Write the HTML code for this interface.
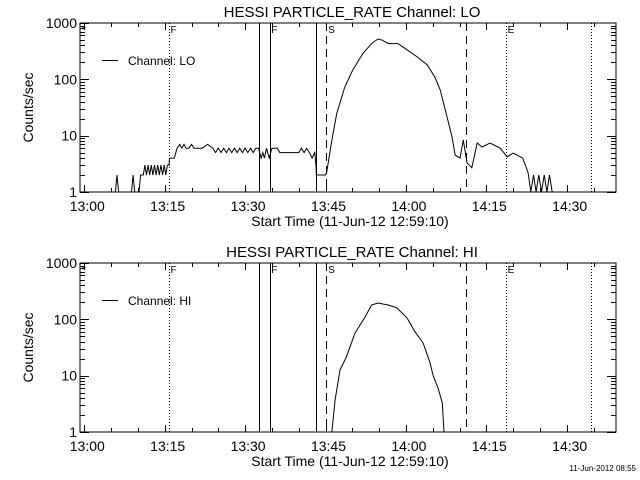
<!DOCTYPE html>
<html><head><meta charset="utf-8"><style>
html,body{margin:0;padding:0;background:#fff;}
svg{display:block;font-family:"Liberation Sans",sans-serif;}
</style></head><body>
<svg id="c" width="640" height="480" xmlns="http://www.w3.org/2000/svg">
<rect width="640" height="480" fill="#fff"/>
</svg>
<script>
// data (time in minutes since 13:00, counts/sec; values <1 are clipped)
const loTimes=[-0.8,5.8,6.1,6.4,8.8,9.1,9.4,9.7,10.2,10.5,11,11.3,11.6,11.9,12.2,12.5,12.8,13.1,13.4,13.7,14,14.3,14.6,14.9,15.2,15.5,15.8,15.9,16.8,17.3,17.8,18.2,18.6,19,19.5,20,20.5,22,23,24,24.5,25,25.5,26,26.5,27,27.5,28,28.5,29,29.5,30,30.5,31,31.5,32,32.5,33,33.3,33.6,34,34.5,35,36,36.5,40,40.5,41,41.5,42,42.5,43,43.2,43.3,45,45.2,46.2,47.1,48.6,50.1,52.0,53.7,54.8,55.5,56.7,58.5,60.2,62.1,64.0,65.4,66.4,67.7,68.6,69.2,70.1,70.7,71.4,72.3,73.3,74.2,75.7,77.6,78.9,80.0,81.8,82.8,83.3,83.8,84.3,84.8,85.3,85.8,86.3,86.8,87.3,87.8];
const loValues=[0.5,0.5,2,0.5,0.5,2,0.5,1,1,2,2,3,2,3,2,3,2,3,2,3,2,3,2,3,2,3,3,4,4,6,7,6,7,6,6,7,6,6,7,6,5,6,5,6,5,6,5,6,5,6,5,6,5,6,5,6,6,4,5,4,6,4,6,6,5,5,6,5,6,5,4,5,3,2,2,2.2,8.4,25,73,147,290,440,520,500,430,430,335,250,180,110,65,21,9.5,4.5,4,8.4,3.3,2.7,7.4,6.3,7.4,6,4.2,4.9,4,2.2,0.5,2,0.5,2,0.5,2,0.5,2,0.5,0.5];
const hiTimes=[45.5,46.2,46.8,47.7,48.9,50.5,52.4,53.6,54.8,56.7,58.3,60.2,61.7,63.2,64.5,65.1,66.0,66.8,67.1];
const hiValues=[0.5,1,3.7,12.6,21.5,57,111,180,195,180,160,106,60,38,17,10,6,3.3,1];
const vLines=[[15.8,'dot'],[32.6,'solid'],[34.6,'solid'],[43.2,'solid'],[45.1,'dash'],[71.2,'dash'],[78.7,'dot'],[94.5,'dot']];
const vLabels=[[-0.6,'*'],[15.9,'F'],[34.7,'F'],[45.3,'S'],[78.8,'E']];
const xTickLabels=['13:00','13:15','13:30','13:45','14:00','14:15','14:30'];
const yTickLabels=['1','10','100','1000'];

const NS='http://www.w3.org/2000/svg';
const svg=document.getElementById('c');
const X0=80,X1=616;
const xs=t=>84.3+5.36*t;
function mk(tag,attrs,parent){const e=document.createElementNS(NS,tag);for(const k in attrs)e.setAttribute(k,attrs[k]);(parent||svg).appendChild(e);return e;}

function panel(top,bot,name,title,times,values,legend){
  const g=mk('g',{});
  
  
  const ys=v=>bot-(bot-top)/3*Math.log10(Math.max(v,1));
  const clipId='clip'+name;
  const cp=mk('clipPath',{id:clipId},g);mk('rect',{x:X0,y:top,width:X1-X0,height:bot-top},cp);
  const t=mk('text',{x:352,y:top-6,'text-anchor':'middle','font-size':'15'},g);t.textContent=title;
  
  
  const fr=mk('rect',{x:X0,y:top,width:X1-X0,height:bot-top,fill:'none',stroke:'#000','stroke-width':1},g);
  
  
  // y ticks
  for(let d=0;d<3;d++)for(let m=1;m<=9;m++){const v=m*Math.pow(10,d);const y=Math.round(ys(v))+0.5;const L=m===1?9:5;
    mk('line',{x1:X0,x2:X0+L,y1:y,y2:y,stroke:'#000'},g);mk('line',{x1:X1,x2:X1-L,y1:y,y2:y,stroke:'#000'},g);}
  yTickLabels.forEach((s,i)=>{const y=ys(Math.pow(10,i));
    mk('line',{x1:X0,x2:X0+9,y1:Math.round(y)+0.5,y2:Math.round(y)+0.5,stroke:'#000'},g);
    const tx=mk('text',{x:X0-3,y:y+5,'text-anchor':'end','font-size':'14'},g);tx.textContent=s;
    
    });
  // x ticks
  for(let m=0;m<=95;m+=5){const x=Math.round(xs(m))+0.5;const L=m%15===0?7:4;
    mk('line',{x1:x,x2:x,y1:bot,y2:bot-L,stroke:'#000'},g);mk('line',{x1:x,x2:x,y1:top,y2:top+L,stroke:'#000'},g);}
  xTickLabels.forEach((s,i)=>{const tx=mk('text',{x:xs(i*15)+3,y:bot+19,'text-anchor':'middle','font-size':'14'},g);tx.textContent=s;
    
    });
  const xl=mk('text',{x:350,y:bot+34,'text-anchor':'middle','font-size':'14'},g);xl.textContent='Start Time (11-Jun-12 12:59:10)';
  
  
  const yl=mk('text',{x:0,y:0,'text-anchor':'middle','font-size':'14',transform:`translate(33,${(top+bot)/2}) rotate(-90)`},g);yl.textContent='Counts/sec';
  
  
  // vertical lines
  vLines.forEach(([t,s])=>{const x=Math.round(xs(t))+0.5;const a={x1:x,x2:x,y1:top,y2:bot,stroke:'#000','stroke-width':1};
    if(s==='dot')a['stroke-dasharray']='1,2';if(s==='dash')a['stroke-dasharray']='8,5';
    const l=mk('line',a,g);
    
    });
  vLabels.forEach(([t,s])=>{const tx=mk('text',{x:xs(t)+1,y:top+10,'font-size':'10'},g);tx.textContent=s;
    
    });
  // series
  const pts=times.map((t,i)=>xs(t).toFixed(1)+','+ys(values[i]<1?0.8:values[i]).toFixed(1)).join(' ');
  const pl=mk('polyline',{points:pts,fill:'none',stroke:'#000','stroke-width':1,'clip-path':`url(#${clipId})`},g);
  
  
  // legend
  const lg=mk('g',{},g);
  
  
  mk('line',{x1:102,x2:118,y1:top+37.5,y2:top+37.5,stroke:'#000'},lg);
  const lt=mk('text',{x:128,y:top+42,'font-size':'12'},lg);lt.textContent=legend;
}
panel(23,192,'panel-lo','HESSI PARTICLE_RATE Channel: LO',loTimes,loValues,'Channel: LO');
panel(263,432,'panel-hi','HESSI PARTICLE_RATE Channel: HI',hiTimes,hiValues,'Channel: HI');
const ft=mk('text',{x:636,y:471,'text-anchor':'end','font-size':'8'});ft.textContent='11-Jun-2012 08:55';


</script>
</body></html>
